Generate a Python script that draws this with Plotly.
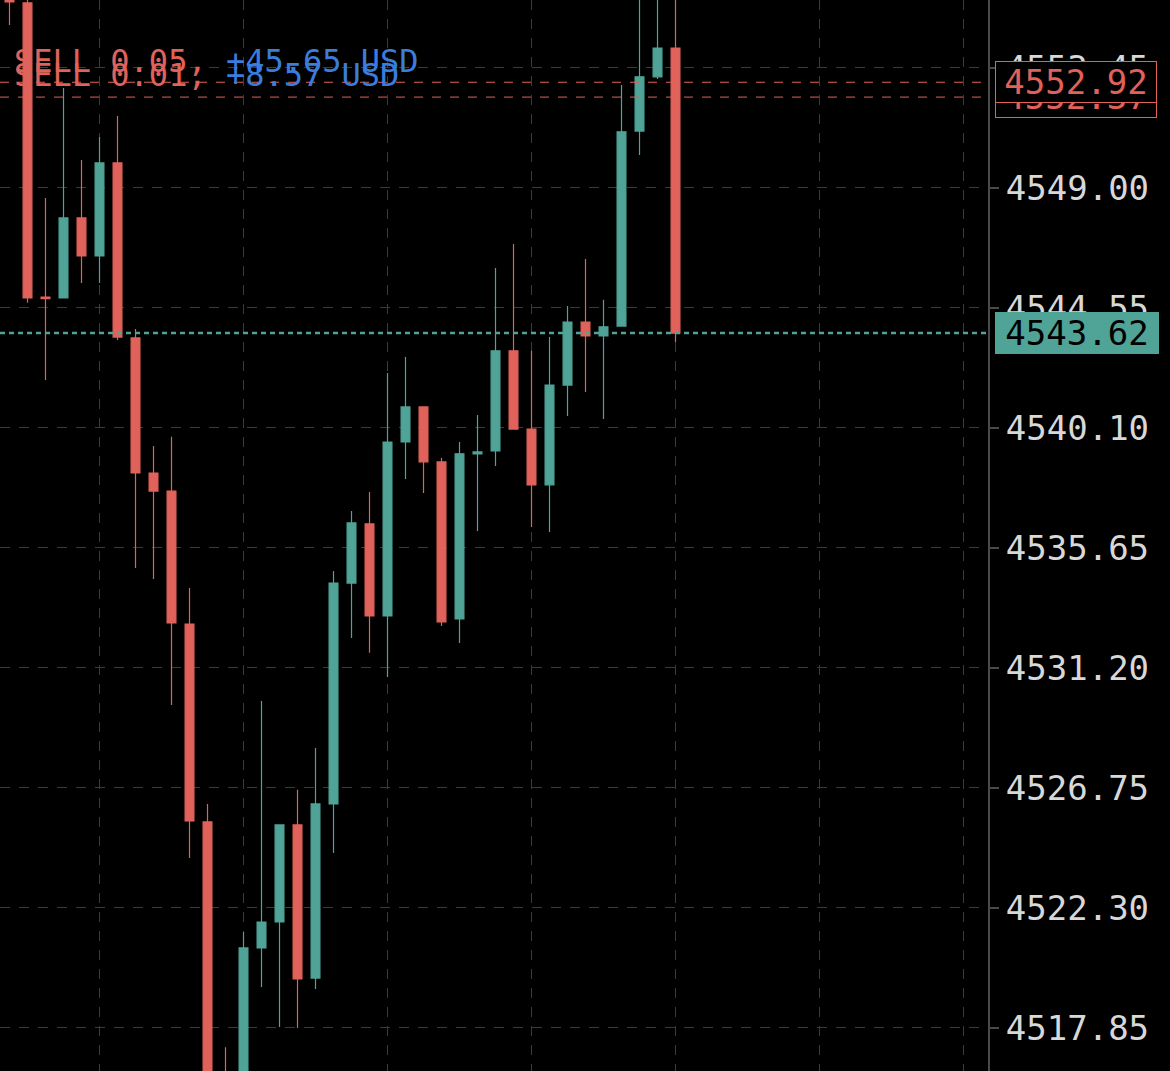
import plotly.graph_objects as go

# ---- data ----
idx = list(range(38))
opens = [4557.40, 4555.86, 4544.95, 4544.92, 4547.89, 4546.48, 4549.93, 4543.44, 4538.43, 4537.76,
         4532.83, 4525.49, 4514.90, 4513.40, 4520.82, 4521.78, 4525.38, 4519.70, 4526.16, 4534.35,
         4536.54, 4533.13, 4539.58, 4540.88, 4538.84, 4533.02, 4539.14, 4539.25, 4542.96, 4540.06,
         4537.99, 4541.69, 4544.03, 4543.51, 4543.88, 4551.11, 4553.12, 4554.19]
highs = [4558.20, 4556.10, 4548.63, 4552.71, 4550.04, 4550.89, 4551.67, 4543.77, 4539.43, 4539.77,
         4534.17, 4526.16, 4517.14, 4521.41, 4529.98, 4525.38, 4526.68, 4528.23, 4534.80, 4537.02,
         4537.73, 4542.14, 4542.73, 4540.88, 4538.99, 4539.58, 4540.58, 4546.03, 4546.92, 4542.96,
         4543.47, 4544.62, 4546.37, 4544.85, 4552.82, 4556.40, 4556.40, 4556.40]
lows = [4555.04, 4544.74, 4541.88, 4544.92, 4545.48, 4545.48, 4543.36, 4534.91, 4534.50, 4529.83,
        4524.15, 4513.20, 4511.80, 4512.90, 4519.37, 4517.89, 4517.85, 4519.30, 4524.34, 4532.31,
        4531.76, 4530.87, 4538.21, 4537.69, 4532.76, 4532.13, 4536.28, 4538.69, 4540.06, 4536.43,
        4536.24, 4540.54, 4541.43, 4540.43, 4543.88, 4550.22, 4553.04, 4543.29]
closes = [4555.90, 4544.92, 4544.90, 4547.89, 4546.48, 4549.93, 4543.47, 4538.43, 4537.76, 4532.87,
          4525.53, 4514.10, 4512.60, 4520.82, 4521.78, 4525.38, 4519.67, 4526.16, 4534.35, 4536.58,
          4533.13, 4539.58, 4540.88, 4538.84, 4532.91, 4539.14, 4539.21, 4542.96, 4540.06, 4537.99,
          4541.69, 4544.03, 4543.51, 4543.85, 4551.08, 4553.12, 4554.19, 4543.62]

tick_vals = [4517.85, 4522.30, 4526.75, 4531.20, 4535.65, 4540.10, 4544.55, 4549.00, 4553.45]
tick_text = ["4517.85", "4522.30", "4526.75", "4531.20", "4535.65", "4540.10", "4544.55", "4549.00", "4553.45"]

current_price = 4543.62
order_prices = [4552.92, 4552.37]
order_labels = ["4552.92", "4552.37"]
order_sides = ["SELL 0.05,", "SELL 0.01,"]
order_pnl = ["+45.65 USD", "+8.57 USD"]

RED = "#E0625A"
GREEN = "#4FA397"
BLUE = "#3B7DDD"
GRID = "#3a3a44"
MONO = "DejaVu Sans Mono"

fig = go.Figure()
fig.add_trace(go.Candlestick(
    x=idx, open=opens, high=highs, low=lows, close=closes,
    increasing=dict(line=dict(color=GREEN, width=1.2), fillcolor=GREEN),
    decreasing=dict(line=dict(color=RED, width=1.2), fillcolor=RED),
    showlegend=False, hoverinfo="skip",
))

# order lines
for p in order_prices:
    fig.add_shape(type="line", xref="paper", x0=0, x1=1, yref="y", y0=p, y1=p,
                  line=dict(color=RED, width=1, dash="9px,9px"), layer="above")
# current price line
fig.add_shape(type="line", xref="paper", x0=0, x1=1, yref="y", y0=current_price, y1=current_price,
              line=dict(color=GREEN, width=2.5, dash="5px,4px"), layer="above")

# order texts
shifts = [21, 22]
for side, pnl, p, s in zip(order_sides, order_pnl, order_prices, shifts):
    fig.add_annotation(xref="paper", x=0, xanchor="left", xshift=12,
                       yref="y", y=p, yanchor="middle", yshift=s,
                       text=f'<span style="color:{RED}">{side}</span> <span style="color:{BLUE}">{pnl}</span>',
                       showarrow=False, font=dict(family=MONO, size=32, color=RED))

# right price boxes (lower one first so the upper one covers it)
for p, lab in reversed(list(zip(order_prices, order_labels))):
    fig.add_annotation(xref="paper", x=1, xanchor="left", xshift=7,
                       yref="y", y=p, yanchor="middle",
                       text=lab, showarrow=False, width=154, height=34,
                       bgcolor="#000000", bordercolor=RED, borderwidth=1, borderpad=3,
                       font=dict(family=MONO, size=34, color=RED))
fig.add_annotation(xref="paper", x=1, xanchor="left", xshift=7,
                   yref="y", y=current_price, yanchor="middle",
                   text=f"{current_price:.2f}", showarrow=False, width=158, height=36,
                   bgcolor=GREEN, bordercolor=GREEN, borderwidth=1, borderpad=2,
                   font=dict(family=MONO, size=34, color="#000000"))

fig.update_layout(
    width=1170, height=1071,
    paper_bgcolor="#000000", plot_bgcolor="#000000",
    margin=dict(l=0, r=182, t=0, b=0),
    xaxis=dict(range=[-0.528, 54.36], rangeslider=dict(visible=False),
               showticklabels=False, ticks="", tick0=5, dtick=8,
               showgrid=True, gridcolor=GRID, griddash="10px,9px", gridwidth=1,
               zeroline=False, showline=False),
    yaxis=dict(side="right", range=[4516.255, 4555.97],
               tickmode="array", tickvals=tick_vals, ticktext=tick_text,
               tickfont=dict(family=MONO, size=34, color="#d8d8d8"),
               ticks="outside", ticklen=9, tickwidth=2, tickcolor="#4a4a4a",
               showline=True, linecolor="#4a4a4a", linewidth=2,
               showgrid=True, gridcolor=GRID, griddash="10px,9px", gridwidth=1,
               zeroline=False),
)

fig.write_html("out.html", config={"displayModeBar": False},
               post_script="document.body.style.margin='0';document.body.style.background='#000';")
